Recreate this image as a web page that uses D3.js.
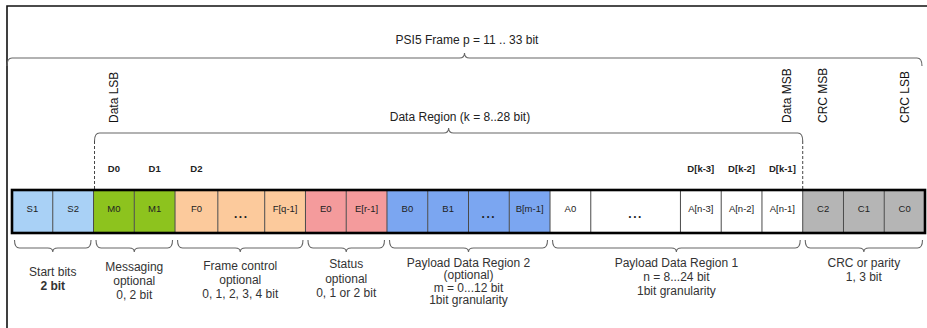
<!DOCTYPE html>
<html>
<head>
<meta charset="utf-8">
<script src="https://cdn.jsdelivr.net/npm/d3@7"></script>
<style>
  html, body { margin: 0; padding: 0; background: #fff; }
  svg { display: block; font-family: "Liberation Sans", Arial, sans-serif; }
</style>
</head>
<body>
<svg id="chart" width="927" height="328"></svg>
<script>
// ---------- data ----------
const cellLabels = ["S1","S2","M0","M1","F0","...","F[q-1]","E0","E[r-1]","B0","B1","...","B[m-1]","A0","...","A[n-3]","A[n-2]","A[n-1]","C2","C1","C0"];
const cellGroups = [0,0,1,1,2,2,2,3,3,4,4,4,4,5,5,5,5,5,6,6,6];
const cellSpans  = [1,1,1,1,1.05,1.15,1,1,1,1,1,1,1,1,2.2,1,1,1,1,1,1];

const groupNames = ["Start bits","Messaging","Frame control","Status","Payload Data Region 2","Payload Data Region 1","CRC or parity"];
const groupLines = [
  ["Start bits","2 bit"],
  ["Messaging","optional","0, 2 bit"],
  ["Frame control","optional","0, 1, 2, 3, 4 bit"],
  ["Status","optional","0, 1 or 2 bit"],
  ["Payload Data Region 2","(optional)","m = 0...12 bit","1bit granularity"],
  ["Payload Data Region 1","n = 8...24 bit","1bit granularity"],
  ["CRC or parity","1, 3 bit"]
];

const dataBitLabels = ["D0","D1","D2","D[k-3]","D[k-2]","D[k-1]"];
const dataBitCells  = [2,3,4,15,16,17];

const markerLabels = ["Data LSB","Data MSB","CRC MSB","CRC LSB"];
const markerCells  = [2,17,18,20];

const frameTitle = "PSI5 Frame p = 11 .. 33 bit";
const dataRegionTitle = "Data Region (k = 8..28 bit)";
const dataRegionCells = [2, 17]; // first and last cell of data region

// ---------- styles / layout ----------
const groupColors = ["#a9d1f6","#8dc31e","#fcca9c","#f49b9c","#7ba6f1","#ffffff","#b5b5b5"];
const groupLabelTop = [276, 271, 270, 268, 267, 267, 267];
const groupLineGap  = [13.5, 14, 14, 14.5, 12.4, 14, 14];

const svg = d3.select("#chart");
const W = 927, H = 328;
const boxTop = 190, boxBot = 233;

// cumulative positions
const starts = [];
let acc = 0;
cellSpans.forEach(s => { starts.push(acc); acc += s; });
const total = acc;
const x = d3.scaleLinear().domain([0, total]).range([12, 925]);

const cells = cellLabels.map((l, i) => ({
  label: l, group: cellGroups[i], x0: x(starts[i]), x1: x(starts[i] + cellSpans[i])
}));

// outer frame
svg.append("path")
  .attr("d", `M7,${H} L7,6 L${W},6`)
  .attr("fill", "none").attr("stroke", "#111").attr("stroke-width", 1.6);

// brace helper
function brace(x1, x2, y, dir, h, t, r, mid) {
  const m = mid === undefined ? (x1 + x2) / 2 : mid;
  const ye = y - dir * h;
  const yt = y + dir * t;
  return `M${x1},${ye} Q${x1},${y} ${x1 + r},${y} L${m - r},${y} Q${m},${y} ${m},${yt}` +
         ` Q${m},${y} ${m + r},${y} L${x2 - r},${y} Q${x2},${y} ${x2},${ye}`;
}

const braceColor = "#666";

// PSI5 frame brace (top)
svg.append("path")
  .attr("d", brace(7, 922, 58, -1, 8, 5, 5))
  .attr("fill", "none").attr("stroke", braceColor).attr("stroke-width", 1.1);
svg.append("text")
  .attr("x", 467).attr("y", 44)
  .attr("text-anchor", "middle").attr("font-size", 12).attr("fill", "#222")
  .text(frameTitle);

// Data region brace
const drX1 = cells[dataRegionCells[0]].x0 + 1;
const drX2 = cells[dataRegionCells[1]].x1;
svg.append("path")
  .attr("d", brace(drX1, drX2, 133, -1, 8, 5, 5))
  .attr("fill", "none").attr("stroke", braceColor).attr("stroke-width", 1.1);
svg.append("text")
  .attr("x", 460).attr("y", 121)
  .attr("text-anchor", "middle").attr("font-size", 12).attr("fill", "#222")
  .text(dataRegionTitle);
[drX1, drX2].forEach(xx => {
  svg.append("line")
    .attr("x1", xx).attr("x2", xx).attr("y1", 141).attr("y2", boxTop)
    .attr("stroke", "#444").attr("stroke-width", 1).attr("stroke-dasharray", "3,2");
});

// rotated marker labels
svg.selectAll("text.marker").data(markerLabels).join("text")
  .attr("class", "marker")
  .attr("transform", (d, i) => {
    const c = cells[markerCells[i]];
    const cx = (c.x0 + c.x1) / 2 + (i === 1 ? 5 : 0);
    return `translate(${cx + 4},123) rotate(-90)`;
  })
  .attr("font-size", 12).attr("fill", "#111")
  .text(d => d);

// data bit labels
svg.selectAll("text.dbit").data(dataBitLabels).join("text")
  .attr("class", "dbit")
  .attr("x", (d, i) => { const c = cells[dataBitCells[i]]; return (c.x0 + c.x1) / 2; })
  .attr("y", 172)
  .attr("text-anchor", "middle").attr("font-size", 9.5).attr("font-weight", "bold").attr("fill", "#222")
  .text(d => d);

// cells
const g = svg.append("g");
g.selectAll("rect.cell").data(cells).join("rect")
  .attr("class", "cell")
  .attr("x", d => d.x0).attr("y", boxTop)
  .attr("width", d => d.x1 - d.x0).attr("height", boxBot - boxTop)
  .attr("fill", d => groupColors[d.group]);
g.selectAll("line.sep").data(cells.slice(1)).join("line")
  .attr("class", "sep")
  .attr("x1", d => d.x0).attr("x2", d => d.x0)
  .attr("y1", boxTop).attr("y2", boxBot)
  .attr("stroke", "#4a4a4a").attr("stroke-width", 1);
g.append("rect")
  .attr("x", x(0)).attr("y", boxTop)
  .attr("width", x(total) - x(0)).attr("height", boxBot - boxTop)
  .attr("fill", "none").attr("stroke", "#000").attr("stroke-width", 2.6);
g.selectAll("text.cl").data(cells).join("text")
  .attr("class", "cl")
  .attr("x", d => (d.x0 + d.x1) / 2)
  .attr("y", d => d.label === "..." ? 218 : 212)
  .attr("text-anchor", "middle")
  .attr("font-size", d => d.label === "..." ? 12 : 9.5)
  .attr("font-weight", d => d.label === "..." ? "bold" : "normal")
  .attr("letter-spacing", d => d.label === "..." ? 1.5 : 0)
  .attr("fill", "#222")
  .text(d => d.label);

// group extents
const groups = groupNames.map((name, gi) => {
  const cs = cells.filter(c => c.group === gi);
  return { name, lines: groupLines[gi], x0: cs[0].x0, x1: cs[cs.length - 1].x1, gi };
});

// bottom braces
svg.selectAll("path.gb").data(groups).join("path")
  .attr("class", "gb")
  .attr("d", d => brace(d.x0 + 2.5, d.x1 - 2.5, 248, 1, 8, 4, 5))
  .attr("fill", "none").attr("stroke", braceColor).attr("stroke-width", 1.1);

// group labels
groups.forEach(gr => {
  const t = svg.append("text")
    .attr("text-anchor", "middle").attr("font-size", 12).attr("fill", "#333");
  gr.lines.forEach((ln, li) => {
    t.append("tspan")
      .attr("x", (gr.x0 + gr.x1) / 2)
      .attr("y", groupLabelTop[gr.gi] + li * groupLineGap[gr.gi])
      .attr("font-weight", (gr.gi === 0 && li === 1) ? "bold" : "normal")
      .text(ln);
  });
});
</script>
</body>
</html>
